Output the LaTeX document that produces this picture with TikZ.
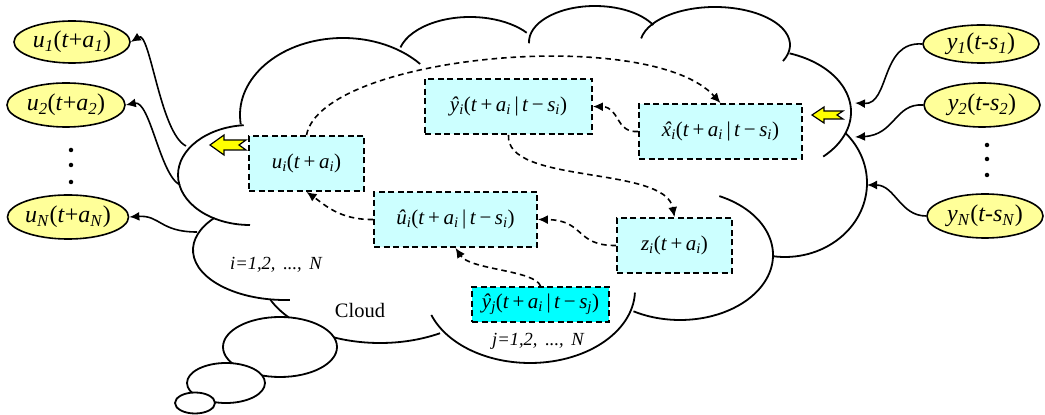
\documentclass[tikz,border=0pt]{standalone}
\usepackage{fontspec}
\setmainfont{Liberation Serif}
\usetikzlibrary{shapes.geometric,arrows.meta}
\definecolor{yel}{HTML}{FFFF99}
\definecolor{lcyan}{HTML}{CCFFFF}
\definecolor{cyn}{HTML}{00FFFF}
\definecolor{arrowyel}{HTML}{FFFF00}
\newcommand\Sb[2]{\textit{#1}\textsubscript{\textit{#2}}}
\newcommand\xhat{\ooalign{\textit{x}\cr\hidewidth\kern0.12em\textit{\char"02C6}\hidewidth\cr}}
\newcommand\lobe[6]{\draw[cl] ([shift={(#5:#3pt and #4pt)}]#1,#2) arc[start angle=#5,end angle=#6,x radius=#3pt,y radius=#4pt];}
\tikzset{
  cl/.style={line width=1.8pt},
  bub/.style={draw, line width=1.8pt, fill=white},
  ell/.style={ellipse, draw, fill=yel, line width=1.6pt, inner sep=0pt, font=\fontsize{24}{26}\selectfont},
  box/.style={draw, line width=1.8pt, dash pattern=on 6pt off 3.5pt, fill=lcyan, inner sep=0pt, font=\fontsize{21}{23}\selectfont},
  dcon/.style={line width=1.6pt, dash pattern=on 5.5pt off 4pt, -{Latex[length=10pt,width=9pt]}},
  scon/.style={line width=1.6pt, -{Latex[length=10pt,width=9pt]}},
  yarrow/.style={draw, fill=arrowyel, line width=1.2pt, line join=miter},
  dot/.style={circle, fill=black, inner sep=0pt, minimum size=4.5pt},
  lbl/.style={inner sep=0pt, font=\fontsize{18.5}{20}\selectfont\itshape}
}
\begin{document}
\begin{tikzpicture}[x=1pt,y=1pt]
\useasboundingbox (0,0) rectangle (1045,415);
% cloud outline
\lobe{343}{300}{103}{77}{187}{41.5}
\lobe{470}{357}{72}{41}{165}{38}
\lobe{595}{373}{66}{36}{182}{28}
\lobe{715}{370}{75}{38}{170}{-25}
\lobe{760}{303}{91}{62}{71}{-46}
\lobe{785}{232}{82}{74}{42}{-99}
\lobe{680}{160}{93}{65}{65}{-120}
\lobe{530}{125}{105}{73}{-2}{-160}
\lobe{380}{145}{120}{73}{-60}{-156}
\lobe{285}{165}{92}{50}{273}{140}
\lobe{250}{240}{72}{50}{270}{95}
% thought bubbles
\draw[bub] (280,68) ellipse[x radius=57pt, y radius=30pt];
\draw[bub] (226,32) ellipse[x radius=39pt, y radius=20pt];
\draw[bub] (195,12) ellipse[x radius=20pt, y radius=10.5pt];
% labels in cloud
\node[inner sep=0pt, font=\fontsize{20.5}{22}\selectfont] (cloudlbl) at (360,105) {Cloud};
\node[lbl] (ilbl) at (276,150) {i=1,2, \,...,\, N};
\node[lbl] (jlbl) at (538,74) {j=1,2, \,...,\, N};
% boxes
\node[box, minimum width=115pt, minimum height=55pt] (ui) at (306.5,251.5) {\Sb{u}{i}(\textit{t}\,+\,\Sb{a}{i})};
\node[box, minimum width=167pt, minimum height=55pt] (yi) at (508.5,308.5) {\Sb{\^{y}}{i}(\textit{t}\,+\,\Sb{a}{i}\,|\,\textit{t}\,−\,\Sb{s}{i})};
\node[box, minimum width=163pt, minimum height=55pt] (xi) at (720.5,283.5) {\xhat\textsubscript{\textit{i}}(\textit{t}\,+\,\Sb{a}{i}\,|\,\textit{t}\,−\,\Sb{s}{i})};
\node[box, minimum width=163pt, minimum height=55pt] (uh) at (455.5,195.5) {\Sb{\^{u}}{i}(\textit{t}\,+\,\Sb{a}{i}\,|\,\textit{t}\,−\,\Sb{s}{i})};
\node[box, minimum width=115pt, minimum height=55pt] (zi) at (674.5,169.5) {\Sb{z}{i}(\textit{t}\,+\,\Sb{a}{i})};
\node[box, fill=cyn, minimum width=137pt, minimum height=35pt] (yj) at (540.5,110.5) {\Sb{\^{y}}{j}(\textit{t}\,+\,\Sb{a}{i}\,|\,\textit{t}\,−\,\Sb{s}{j})};
% dashed connectors
\draw[dcon] (ui.north) .. controls (322,360) and (650,390) .. (xi.north);
\draw[dcon] (xi.west) .. controls (615,282) and (620,308) .. (yi.east);
\draw[dcon] (yi.south) .. controls (505,230) and (665,250) .. (zi.north);
\draw[dcon] (zi.west) .. controls (575,169) and (585,195) .. (uh.east);
\draw[dcon] (yj.north) .. controls (535,145) and (470,145) .. (uh.south);
\draw[dcon] (uh.west) .. controls (340,195) and (325,210) .. (ui.south);
% yellow ellipses
\node[ell, minimum width=116pt, minimum height=42pt] (u1) at (72,373) {\Sb{u}{1}(\textit{t}+\Sb{a}{1})};
\node[ell, minimum width=118pt, minimum height=44pt] (u2) at (66,310) {\Sb{u}{2}(\textit{t}+\Sb{a}{2})};
\node[ell, minimum width=118pt, minimum height=44pt] (uN) at (68,198) {\Sb{u}{N}(\textit{t}+\Sb{a}{N})};
\node[ell, minimum width=116pt, minimum height=38pt] (y1) at (981,371) {\Sb{y}{1}(\textit{t-}\Sb{s}{1})};
\node[ell, minimum width=116pt, minimum height=44pt] (y2) at (982,310) {\Sb{y}{2}(\textit{t-}\Sb{s}{2})};
\node[ell, minimum width=116pt, minimum height=44pt] (yN) at (985,199) {\Sb{y}{N}(\textit{t-}\Sb{s}{N})};
\node[dot] (ld1) at (71,265) {};
\node[dot] (ld2) at (71,250) {};
\node[dot] (ld3) at (71,233) {};
\node[dot] (rd1) at (987,270) {};
\node[dot] (rd2) at (987,256) {};
\node[dot] (rd3) at (987,240) {};
% solid connectors
\coordinate (cu1) at (186,269);
\coordinate (cu2) at (180,230);
\coordinate (cuN) at (197,183);
\coordinate (cy1) at (855,312);
\coordinate (cy2) at (855,278);
\coordinate (cyN) at (867,230);
\draw[scon] (cu1) .. controls (160,282) and (150,385) .. (u1.east);
\draw[scon] (cu2) .. controls (160,240) and (150,315) .. (u2.east);
\draw[scon] (cuN) .. controls (160,183) and (160,200) .. (uN.east);
\draw[scon] (y1.west) .. controls (880,374) and (890,310) .. (cy1);
\draw[scon] (y2.west) .. controls (895,312) and (895,280) .. (cy2);
\draw[scon] (yN.west) .. controls (900,199) and (895,230) .. (cyN);
% yellow block arrows
\draw[yarrow] (210,270) -- (224,280) -- (224,275) -- (246,275) -- (239,270) -- (246,265) -- (224,265) -- (224,260) -- cycle;
\draw[yarrow] (812,300) -- (824,308) -- (824,304) -- (843,304) -- (837,300) -- (843,296) -- (824,296) -- (824,292) -- cycle;
\end{tikzpicture}
\end{document}
